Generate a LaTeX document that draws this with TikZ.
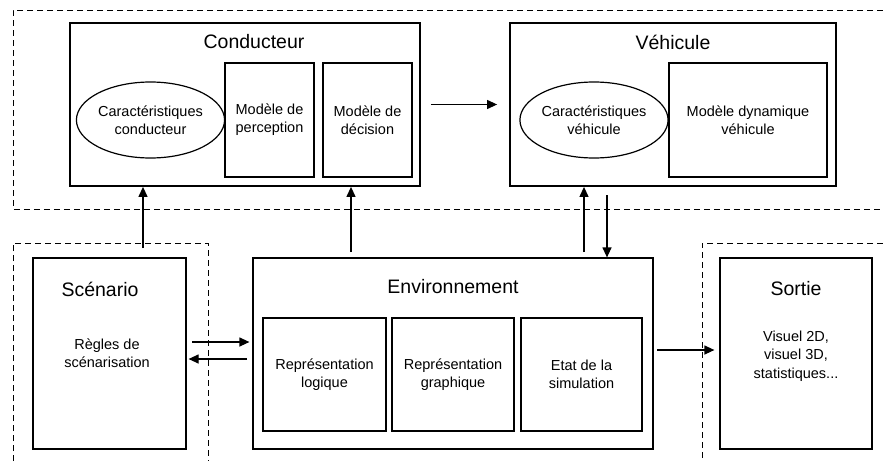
\documentclass[tikz,border=0pt]{standalone}
\usepackage{fontspec}
\setmainfont{Liberation Sans}
\usetikzlibrary{arrows.meta,shapes.geometric}

\begin{document}
\begin{tikzpicture}[x=1pt,y=-1pt, line join=miter,
        every node/.append style={inner sep=0pt,align=center}]
      \tikzstyle{bloc} = [draw,line width=1.2pt,rectangle]
      \tikzstyle{grand} = [bloc,line width=1.8pt]
      \tikzstyle{bulle} = [draw,line width=1.2pt,ellipse]
      \tikzstyle{titre} = [font=\fontsize{19.5}{23}\selectfont]
      \tikzstyle{texte} = [font=\fontsize{14.5}{18.3}\selectfont]
      \tikzstyle{zone} = [line width=1pt,dash pattern=on 6pt off 4pt]
      \tikzstyle{fleche} = [line width=1.2pt,-{Triangle[length=10pt,width=9pt]}]
      \useasboundingbox (0,0) rectangle (883,461);
      \draw[zone] (883,10) -- (13,10) -- (13,209) -- (883,209);
      \draw[zone] (13,461) -- (13,243) -- (208,243) -- (208,461);
      \draw[zone] (883,243) -- (702,243) -- (702,461);
      \node (cond) [grand,minimum width=350pt,minimum height=163pt] at (245,104.5) {};
      \node (condTitre) [titre] at (254,42) {Conducteur};
      \node (carCond) [bulle,texte,minimum width=145pt,minimum height=76pt] at (150.5,120)
        {Caractéristiques\\conducteur};
      \node (percep) [bloc,texte,minimum width=89pt,minimum height=114pt] at (269.5,120)
        {Modèle de\\perception};
      \node (decis) [bloc,texte,minimum width=89pt,minimum height=114pt] at (367.5,120)
        {Modèle de\\décision};
      \node (veh) [grand,minimum width=326pt,minimum height=163pt] at (673,104.5) {};
      \node (vehTitre) [titre] at (673,42) {Véhicule};
      \node (carVeh) [bulle,texte,minimum width=144pt,minimum height=76pt] at (594,120)
        {Caractéristiques\\véhicule};
      \node (dyn) [bloc,texte,minimum width=158pt,minimum height=114pt] at (748,120)
        {Modèle dynamique\\véhicule};
      \node (scen) [bloc,minimum width=153pt,minimum height=191pt] at (109.5,353.5) {};
      \node (scenTitre) [titre] at (100,289) {Scénario};
      \node (regles) [texte] at (107,353) {Règles de\\scénarisation};
      \node (env) [bloc,minimum width=400pt,minimum height=191pt] at (453,353.5) {};
      \node (envTitre) [titre] at (453,287) {Environnement};
      \node (logi) [bloc,texte,minimum width=123pt,minimum height=113pt] at (324.5,374.5)
        {Représentation\\logique};
      \node (graph) [bloc,texte,minimum width=122pt,minimum height=113pt] at (453,374.5)
        {Représentation\\graphique};
      \node (etat) [bloc,texte,minimum width=121pt,minimum height=113pt] at (581.5,374.5)
        {Etat de la\\simulation};
      \node (sortie) [bloc,minimum width=152pt,minimum height=191pt] at (796,353.5) {};
      \node (sortieTitre) [titre] at (796,289) {Sortie};
      \node (visuel) [texte] at (796,356) {Visuel 2D,\\visuel 3D,\\statistiques...};
      \coordinate (s1) at (143,248);
      \coordinate (e1) at (351,252);
      \coordinate (e2) at (584,252);
      \coordinate (v1) at (607,195);
      \coordinate (s2) at (192,342);
      \coordinate (e3) at (247,359);
      \coordinate (e4) at (657,350);
      \draw[fleche,shorten <=10pt,shorten >=12pt] (cond.east) -- (veh.west);
      \draw[fleche] (s1) -- (s1 |- cond.south);
      \draw[fleche] (e1) -- (e1 |- cond.south);
      \draw[fleche] (e2) -- (e2 |- veh.south);
      \draw[fleche] (v1) -- (v1 |- env.north);
      \draw[fleche,shorten >=3pt] (s2) -- (s2 -| env.west);
      \draw[fleche,shorten >=2pt] (e3) -- (e3 -| scen.east);
      \draw[fleche,shorten >=5pt] (e4) -- (e4 -| sortie.west);
    \end{tikzpicture}
\end{document}
